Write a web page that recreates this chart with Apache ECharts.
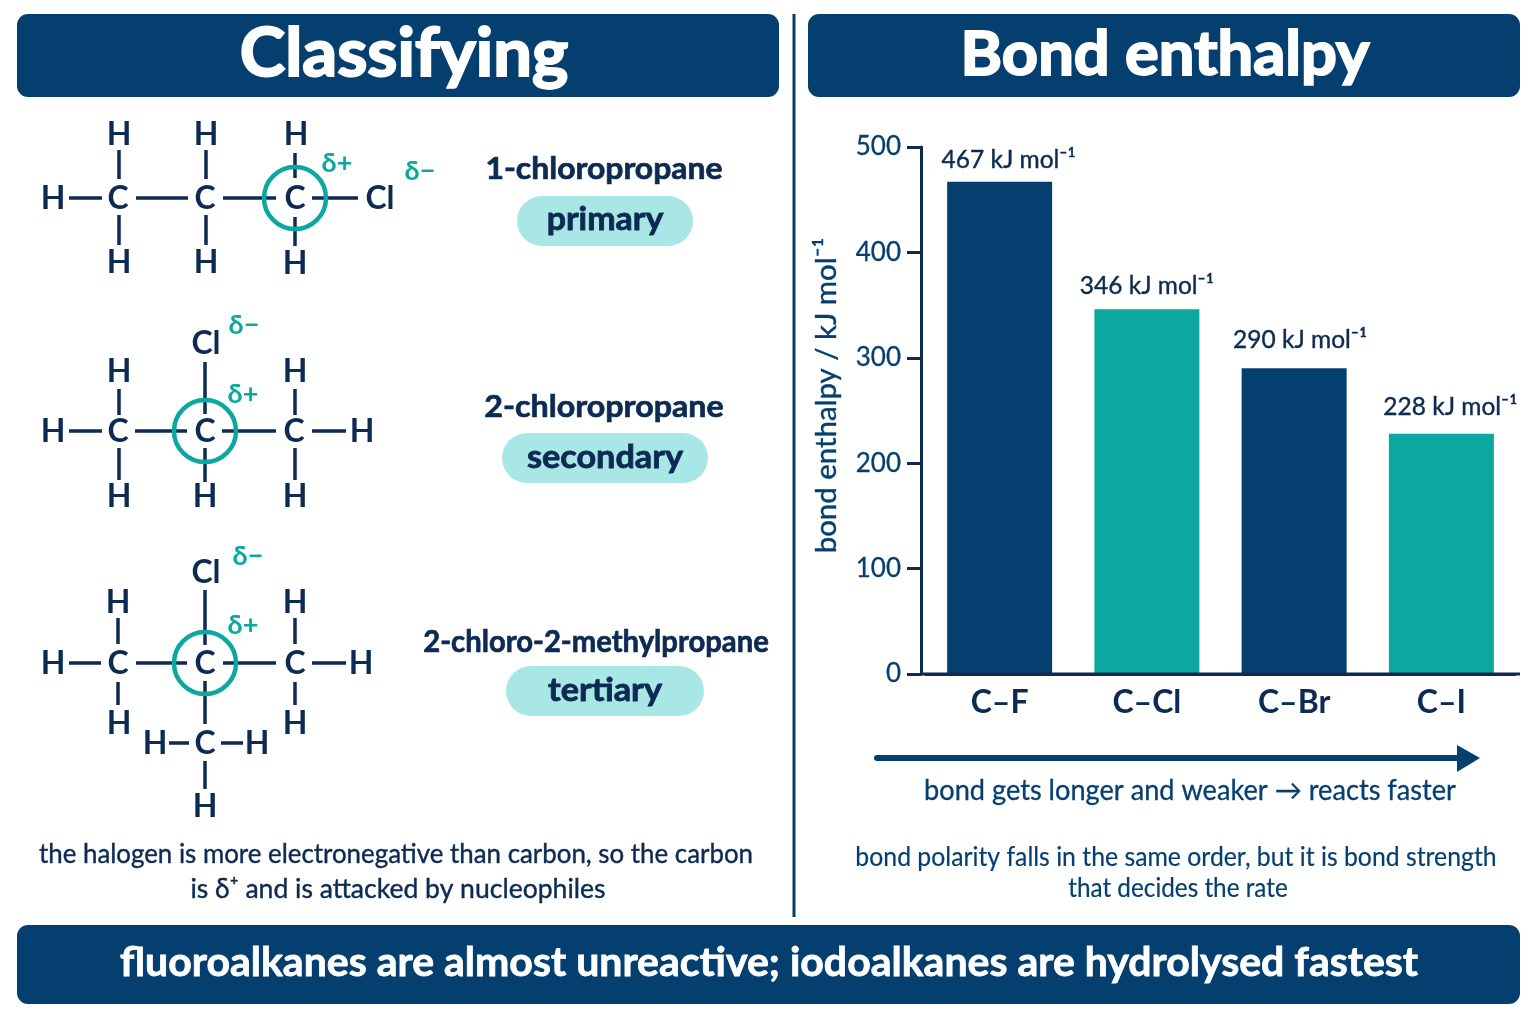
<!DOCTYPE html>
<html>
<head>
<meta charset="utf-8">
<title>Classifying and bond enthalpy</title>
<script src="https://cdn.jsdelivr.net/npm/echarts@6/dist/echarts.min.js"></script>
<style>
html, body { margin: 0; padding: 0; background: #fff; }
#main { width: 1536px; height: 1024px; }
</style>
</head>
<body>
<div id="main"></div>
<script>
var bondNames = ['C–F', 'C–Cl', 'C–Br', 'C–I'];
var bondEnthalpy = [467, 346, 290, 228];
var barColors = ['#053f6f', '#0ca8a0', '#053f6f', '#0ca8a0'];
var labelShift = [[9, 3], [0, 1], [6, -4], [9, -2]];

var NAVY = '#053f6f', INK = '#0c2a52', TEAL = '#0ca8a0', PILL = '#a9e6e6';
var FONT = 'Lato, "Noto Sans", sans-serif';

// atoms: [text, x, y]   bonds: [x1, y1, x2, y2]
var mol1Atoms = [['H', 119, 135], ['H', 206, 135], ['H', 296, 135], ['H', 53, 199], ['C', 118, 199], ['C', 205, 199], ['C', 295, 199], ['Cl', 380, 199], ['H', 119, 263], ['H', 206, 263], ['H', 295, 264]];
var mol1Bonds = [[69, 198, 102, 198], [136, 198, 188, 198], [223, 198, 276, 198], [312, 198, 358, 198], [119, 150, 119, 179], [206, 150, 206, 179], [295, 153, 295, 178], [119, 215, 119, 245], [206, 215, 206, 245], [295, 217, 295, 246]];
var mol2Atoms = [['Cl', 206, 344], ['H', 119, 372], ['H', 295, 372], ['H', 53, 432], ['C', 118, 432], ['C', 205, 432], ['C', 294, 432], ['H', 362, 432], ['H', 119, 497], ['H', 205, 497], ['H', 295, 497]];
var mol2Bonds = [[69, 431, 102, 431], [135, 431, 187, 431], [222, 431, 276, 431], [312, 431, 346, 431], [205, 362, 205, 414], [119, 389, 119, 415], [295, 389, 295, 415], [119, 448, 119, 480], [205, 448, 205, 482], [295, 448, 295, 480]];
var mol3Atoms = [['Cl', 206, 573], ['H', 118, 603], ['H', 295, 603], ['H', 53, 664], ['C', 118, 664], ['C', 205, 664], ['C', 295, 664], ['H', 361, 664], ['H', 119, 724], ['H', 295, 724], ['H', 155, 744], ['C', 205, 744], ['H', 257, 744], ['H', 205, 807]];
var mol3Bonds = [[69, 663, 101, 663], [136, 663, 187, 663], [223, 663, 276, 663], [312, 663, 346, 663], [118, 618, 118, 644], [295, 618, 295, 644], [118, 682, 118, 705], [295, 682, 295, 705], [205, 590, 205, 645], [205, 681, 205, 724], [169, 743, 189, 743], [221, 743, 243, 743], [205, 761, 205, 789]];

var graphics = [];

function addText(x, y, str, size, weight, color, sx, thick) {
    var style = { text: str, font: weight + ' ' + size + 'px ' + FONT, fill: color, textAlign: 'center', textVerticalAlign: 'middle' };
    // no heavier cuts of the font by name, so a thin outline brings the weight up
    if (thick) {
        style.stroke = color;
        style.lineWidth = thick;
    }
    graphics.push({ type: 'text', x: x, y: y, scaleX: sx || 1, z: 5, style: style });
}
function addRect(x, y, w, h, r, color) {
    graphics.push({ type: 'rect', z: 2, shape: { x: x, y: y, width: w, height: h, r: r }, style: { fill: color } });
}
function addLine(b, width, color, cap) {
    graphics.push({ type: 'line', z: 3, shape: { x1: b[0], y1: b[1], x2: b[2], y2: b[3] }, style: { stroke: color, lineWidth: width, lineCap: cap || 'butt' } });
}
function addMolecule(atoms, bonds, ring, deltaPlus, deltaMinus) {
    bonds.forEach(function (b) { addLine(b, 3.5, INK); });
    graphics.push({ type: 'circle', z: 4, shape: { cx: ring[0], cy: ring[1], r: 31 }, style: { fill: 'none', stroke: TEAL, lineWidth: 4.5 } });
    atoms.forEach(function (a) { addText(a[1], a[2], a[0], 32, 'bold', INK); });
    addText(deltaPlus[0], deltaPlus[1], 'δ+', 27, 'bold', TEAL);
    addText(deltaMinus[0], deltaMinus[1], 'δ−', 27, 'bold', TEAL);
}

addRect(17, 14, 762, 83, 11, NAVY);
addRect(808, 14, 712, 83, 11, NAVY);
addRect(17, 925, 1503, 79, 11, NAVY);
addLine([794, 14, 794, 917], 3, NAVY);
addText(404, 55, 'Classifying', 66, 'bold', '#fff', 1.04, 2);
addText(1165, 55, 'Bond enthalpy', 62, 'bold', '#fff', 1.02, 2);
addText(769, 963, 'fluoroalkanes are almost unreactive; iodoalkanes are hydrolysed fastest', 41, 'bold', '#fff', 1, 0.8);

addMolecule(mol1Atoms, mol1Bonds, [295, 198], [337, 163], [420, 171]);
addMolecule(mol2Atoms, mol2Bonds, [205, 431], [243, 394], [244, 325]);
addMolecule(mol3Atoms, mol3Bonds, [205, 663], [243, 625], [248, 556]);

addText(604, 169, '1-chloropropane', 31, 'bold', INK, 1.03, 0.7);
addRect(517, 196, 176, 50, 25, PILL);
addText(605, 220, 'primary', 32, 'bold', INK, 1.06, 0.8);
addText(604, 407, '2-chloropropane', 31, 'bold', INK, 1.04, 0.7);
addRect(502, 433, 206, 50, 25, PILL);
addText(605, 458, 'secondary', 32, 'bold', INK, 1.07, 0.8);
addText(596, 642, '2-chloro-2-methylpropane', 31, 'bold', INK, 0.943, 0.7);
addRect(506, 666, 198, 50, 25, PILL);
addText(605, 691, 'tertiary', 32, 'bold', INK, 1.07, 0.8);

addText(396, 854, 'the halogen is more electronegative than carbon, so the carbon', 27, 'normal', INK, 0.958, 0.4);
addText(398, 889, 'is δ⁺ and is attacked by nucleophiles', 27, 'normal', INK, 0.983, 0.4);
addText(1176, 857, 'bond polarity falls in the same order, but it is bond strength', 27, 'normal', NAVY, 0.918, 0.2);
addText(1178, 888, 'that decides the rate', 27, 'normal', NAVY, 0.9, 0.2);
addText(1190, 791, 'bond gets longer and weaker → reacts faster', 28, 'normal', NAVY, 0.97, 0.3);

// arrow under the bars, and the baseline running past the first and last bar
addLine([877, 758, 1460, 758], 6, NAVY, 'round');
graphics.push({ type: 'polygon', z: 3, shape: { points: [[1457, 745], [1480, 758], [1457, 772]] }, style: { fill: NAVY } });
addLine([921, 674, 1520, 674], 3, INK);

var myChart = echarts.init(document.getElementById('main'), null, { renderer: 'canvas' });
var option = {
    animation: false,
    backgroundColor: '#fff',
    textStyle: { fontFamily: FONT },
    grid: { left: 926, top: 147, width: 589, height: 527 },
    xAxis: {
        type: 'category',
        data: bondNames,
        axisLine: { lineStyle: { color: INK, width: 3 } },
        axisTick: { show: false },
        axisLabel: { color: INK, fontSize: 32, fontWeight: 'bold', margin: 13, fontFamily: FONT }
    },
    yAxis: {
        type: 'value',
        min: 0,
        max: 500,
        interval: 100,
        offset: 5,
        name: 'bond enthalpy / kJ mol⁻¹',
        nameLocation: 'middle',
        nameGap: 80,
        nameRotate: 90,
        nameTextStyle: { color: NAVY, fontSize: 29.4, fontFamily: FONT, padding: [0, 0, 0, 30], textBorderColor: NAVY, textBorderWidth: 0.4 },
        splitLine: { show: false },
        axisLine: { show: true, lineStyle: { color: INK, width: 3 } },
        axisTick: { show: true, length: 14, lineStyle: { color: INK, width: 3 } },
        axisLabel: { color: NAVY, fontSize: 26, margin: 20, fontFamily: FONT, textBorderColor: NAVY, textBorderWidth: 0.3 }
    },
    series: [{
        type: 'bar',
        barWidth: 105,
        z: 2,
        data: bondEnthalpy.map(function (v, i) {
            return {
                value: v,
                itemStyle: { color: barColors[i] },
                label: { offset: labelShift[i] }
            };
        }),
        label: {
            show: true,
            position: 'top',
            distance: 12,
            formatter: '{c} kJ mol⁻¹',
            color: INK,
            fontSize: 24.5,
            fontFamily: FONT,
            textBorderColor: INK,
            textBorderWidth: 0.4
        }
    }],
    graphic: { elements: graphics }
};
myChart.setOption(option);
</script>
</body>
</html>
